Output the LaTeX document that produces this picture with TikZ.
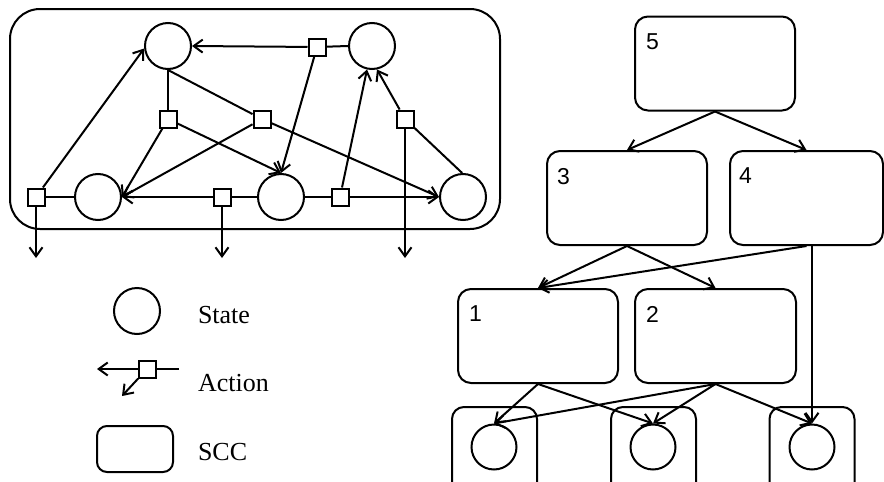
\documentclass[tikz,border=0pt]{standalone}
\usepackage{fontspec}
\setmainfont{Liberation Serif}
\newfontfamily\numfont{Liberation Sans}
\usetikzlibrary{arrows.meta}
\begin{document}
\begin{tikzpicture}[x=1pt,y=-1pt,
  line width=2pt,
  state/.style={circle,draw,minimum size=46pt,inner sep=0pt},
  act/.style={rectangle,draw,fill=white,minimum size=17pt,inner sep=0pt},
  scc/.style={rectangle,draw,rounded corners=13pt,minimum width=160pt,minimum height=94pt,inner sep=0pt},
  leaf/.style={rectangle,draw,rounded corners=12pt,minimum width=85pt,minimum height=110pt,inner sep=0pt},
  num/.style={inner sep=0pt,anchor=north west,font=\numfont\fontsize{23}{25}\selectfont},
  legtext/.style={inner sep=0pt,anchor=base west,font=\fontsize{26}{29}\selectfont},
  arr/.style={-{Straight Barb[length=9pt,width=13pt]}}]
\useasboundingbox (0,0) rectangle (884,482);
\clip (0,0) rectangle (884,482);

% ---- state graph inside one SCC ----
\node[rectangle,draw,rounded corners=30pt,minimum width=490pt,minimum height=220pt] (big) at (255,119) {};
\node[state] (stl) at (168,46) {};
\node[state] (str) at (372,46) {};
\node[state] (s1) at (98,197) {};
\node[state] (s3) at (281,197) {};
\node[state] (s5) at (463,197) {};
\node[act] (a1) at (317,47) {};
\node[act] (a2) at (168,119) {};
\node[act] (a3) at (262,119) {};
\node[act] (a4) at (36,197) {};
\node[act] (a5) at (222,197) {};
\node[act] (a6) at (340,197) {};
\node[act] (a7) at (405,119) {};
\coordinate (d4) at (36,258);
\coordinate (d5) at (222,258);
\coordinate (d7) at (405,258);

\draw (a1) -- (str.west);
\draw[arr] (a1) -- (stl.east);
\draw[arr] (a1) -- (s3.north);

\draw (stl.south) -- (a2);
\draw[arr] (a2) -- (s1.east);
\draw[arr] (a2) -- (s3.north);

\draw (stl.south) -- (a3);
\draw[arr] (a3) -- (s1.east);
\draw[arr] (a3) -- (s5.west);

\draw (a4) -- (s1.west);
\draw[arr] (a4) -- (stl.186);
\draw[arr] (a4) -- (d4);

\draw (a5) -- (s3.west);
\draw[arr] (a5) -- (s1.east);
\draw[arr] (a5) -- (d5);

\draw (s3.east) -- (a6);
\draw[arr] (a6) -- (s5.west);
\draw[arr] (a6) -- (str.258);

\draw (s5.92) -- (a7);
\draw[arr] (a7) -- (str.282);
\draw[arr] (a7) -- (d7);

% ---- legend ----
\node[state] (lstate) at (137,311) {};
\node[legtext] (tstate) at (197,323) {State};
\node[act] (lact) at (147,369) {};
\coordinate (lr) at (179,369);
\coordinate (ll) at (97,369);
\coordinate (ld) at (122,396);
\draw (lr) -- (lact);
\draw[arr] (lact) -- (ll);
\draw[arr] (lact) -- (ld);
\node[legtext] (tact) at (197,391) {Action};
\node[rectangle,draw,rounded corners=10pt,minimum width=76pt,minimum height=46pt,inner sep=0pt] (lscc) at (135,449) {};
\node[legtext] (tscc) at (197,460) {SCC};

% ---- SCC DAG ----
\node[scc] (c5) at (715,63.5) {};
\node[scc] (c3) at (627,198) {};
\node[scc,minimum width=153pt] (c4) at (806.5,198) {};
\node[scc] (c1) at (538,336) {};
\node[scc,minimum width=161pt] (c2) at (715.5,336) {};
\node[num] (n5) at ([shift={(11,17)}]c5.north west) {5};
\node[num] (n3) at ([shift={(10,17)}]c3.north west) {3};
\node[num] (n4) at ([shift={(9,17)}]c4.north west) {4};
\node[num] (n1) at ([shift={(11,17)}]c1.north west) {1};
\node[num] (n2) at ([shift={(11,17)}]c2.north west) {2};

\node[leaf] (b1) at (494.5,462) {};
\node[leaf] (b2) at (653.5,462) {};
\node[leaf] (b3) at (812,462) {};
\node[state,minimum size=45pt] (t1) at (494,447) {};
\node[state,minimum size=45pt] (t2) at (653,447) {};
\node[state,minimum size=45pt] (t3) at (812,447) {};

\draw[arr] (c5.south) -- (c3.north);
\draw[arr] (c5.south) -- (c4.north);
\draw[arr] (c3.south) -- (c1.north);
\draw[arr] (c3.south) -- (c2.north);
\draw[arr] (c4.south) -- (c1.north);
\draw[arr] (t3.north |- c4.south) -- (t3.north);
\draw[arr] (c1.south) -- (t1.north);
\draw[arr] (c1.south) -- (t2.north);
\draw[arr] (c2.south) -- (t1.north);
\draw[arr] (c2.south) -- (t2.north);
\draw[arr] (c2.south) -- (t3.north);
\end{tikzpicture}
\end{document}
